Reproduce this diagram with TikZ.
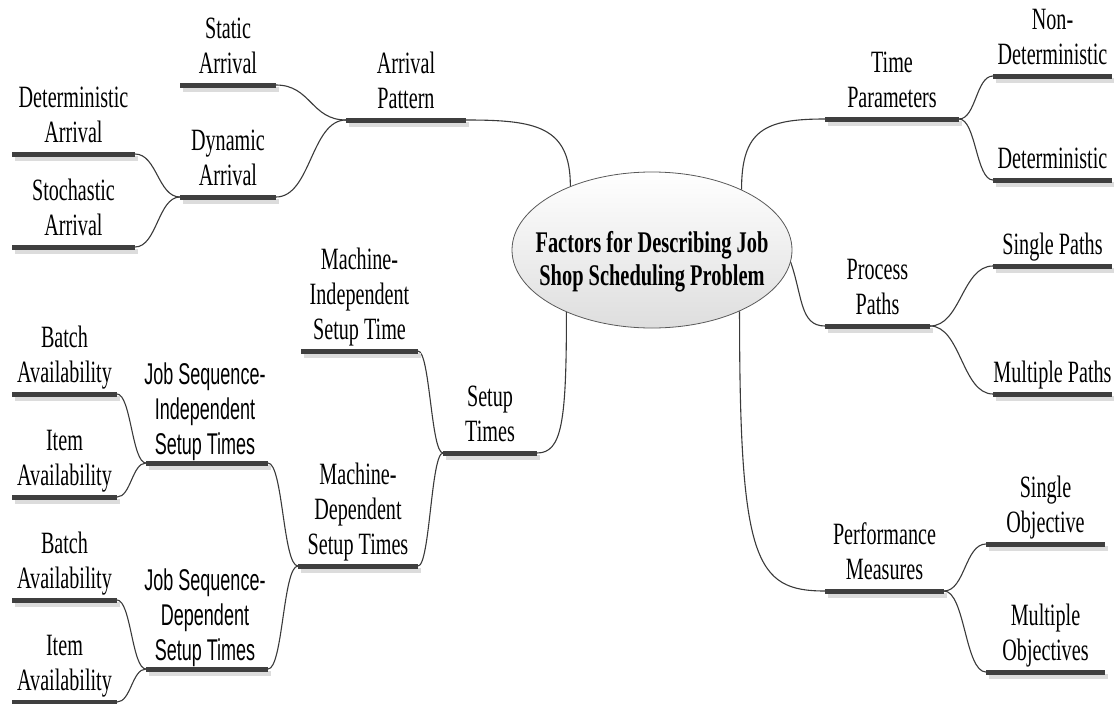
\documentclass[tikz,border=0pt]{standalone}
\usepackage{fontspec}
\newfontfamily\lblserif{Liberation Serif}[FakeStretch=0.65]
\newfontfamily\lblsans{Liberation Sans}[FakeStretch=0.6]
\newfontfamily\titleserif{Liberation Serif}[FakeStretch=0.68]
\usetikzlibrary{shapes.geometric}
\definecolor{barcol}{HTML}{3F3F3F}
\definecolor{shadowcol}{HTML}{DCDCDC}
\definecolor{linkcol}{HTML}{3A3A3A}

\begin{document}
\begin{tikzpicture}[x=1pt,y=1pt,
  lbl/.style={font=\lblserif\fontsize{31}{35}\selectfont, align=center,
    inner sep=0pt, anchor=south, yshift=2.5pt, execute at end node=\strut},
  slbl/.style={lbl, font=\lblsans\fontsize{30}{35}\selectfont},
  bar/.style={draw=barcol, line width=5pt},
  barshadow/.style={draw=shadowcol, line width=5pt},
  link/.style={draw=linkcol, line width=1.1pt},
  hub/.style={ellipse, draw=black!65, line width=0.8pt, top color=white,
    bottom color=black!13, minimum width=280pt, minimum height=156pt, inner sep=0pt}
]
\useasboundingbox (0,0) rectangle (1114,-704);

% central topic
\node[hub] (ell) at (652,-250) {};
\node[font=\titleserif\bfseries\fontsize{30}{33}\selectfont, align=center, inner sep=0pt]
  (title) at (652,-261.5) {Factors for Describing Job\\Shop Scheduling Problem};

% bar end points
\coordinate (staticL) at (180,-85);   \coordinate (staticR) at (276,-85);
\coordinate (patternL) at (346,-120); \coordinate (patternR) at (466,-120);
\coordinate (detarrL) at (12,-154);   \coordinate (detarrR) at (135,-154);
\coordinate (dynamicL) at (180,-197); \coordinate (dynamicR) at (276,-197);
\coordinate (stochL) at (12,-247);    \coordinate (stochR) at (135,-247);
\coordinate (mindL) at (301,-351);    \coordinate (mindR) at (418,-351);
\coordinate (setupL) at (443,-453);   \coordinate (setupR) at (537,-453);
\coordinate (mdepL) at (298,-566);    \coordinate (mdepR) at (418,-566);
\coordinate (jsiL) at (146,-463);     \coordinate (jsiR) at (268,-463);
\coordinate (batchAL) at (12,-394);   \coordinate (batchAR) at (117,-394);
\coordinate (itemAL) at (12,-497);    \coordinate (itemAR) at (117,-497);
\coordinate (jsdL) at (146,-669);     \coordinate (jsdR) at (268,-669);
\coordinate (batchBL) at (12,-600);   \coordinate (batchBR) at (117,-600);
\coordinate (itemBL) at (12,-702);    \coordinate (itemBR) at (117,-702);
\coordinate (timepL) at (825,-119);   \coordinate (timepR) at (959,-119);
\coordinate (nondetL) at (993,-76);   \coordinate (nondetR) at (1112,-76);
\coordinate (detL) at (993,-180);     \coordinate (detR) at (1112,-180);
\coordinate (procpL) at (825,-326);   \coordinate (procpR) at (930,-326);
\coordinate (singlepL) at (993,-266); \coordinate (singlepR) at (1112,-266);
\coordinate (multipL) at (993,-394);  \coordinate (multipR) at (1112,-394);
\coordinate (perfL) at (825,-591);    \coordinate (perfR) at (944,-591);
\coordinate (singleoL) at (986,-544); \coordinate (singleoR) at (1105,-544);
\coordinate (multioL) at (986,-672);  \coordinate (multioR) at (1105,-672);

% connectors to the central topic
\draw[link] (patternR) .. controls +(70,0) and +(0,60) .. (ell.142.9);
\draw[link] (ell.34.6) .. controls +(0,60) and +(-60,0) .. (timepL);
\draw[link] (ell.-5.4) .. controls +(12,-35) and +(-25,0) .. (procpL);
\draw[link] (ell.325.4) .. controls +(0,-250) and +(-70,0) .. (perfL);
\draw[link] (setupR) .. controls +(25,0) and +(0,-110) .. (ell.216.1);

% branch connectors
\draw[link] (staticR)  .. controls +(35,0) and +(-35,0) .. (patternL);
\draw[link] (dynamicR) .. controls +(35,0) and +(-35,0) .. (patternL);
\draw[link] (detarrR)  .. controls +(22,0) and +(-22,0) .. (dynamicL);
\draw[link] (stochR)   .. controls +(22,0) and +(-22,0) .. (dynamicL);
\draw[link] (mindR)    .. controls +(12,0) and +(-12,0) .. (setupL);
\draw[link] (mdepR)    .. controls +(12,0) and +(-12,0) .. (setupL);
\draw[link] (batchAR)  .. controls +(14,0) and +(-14,0) .. (jsiL);
\draw[link] (itemAR)   .. controls +(14,0) and +(-14,0) .. (jsiL);
\draw[link] (jsiR)     .. controls +(15,0) and +(-15,0) .. (mdepL);
\draw[link] (jsdR)     .. controls +(15,0) and +(-15,0) .. (mdepL);
\draw[link] (batchBR)  .. controls +(14,0) and +(-14,0) .. (jsdL);
\draw[link] (itemBR)   .. controls +(14,0) and +(-14,0) .. (jsdL);
\draw[link] (timepR)   .. controls +(17,0) and +(-17,0) .. (nondetL);
\draw[link] (timepR)   .. controls +(17,0) and +(-17,0) .. (detL);
\draw[link] (procpR)   .. controls +(31,0) and +(-31,0) .. (singlepL);
\draw[link] (procpR)   .. controls +(31,0) and +(-31,0) .. (multipL);
\draw[link] (perfR)    .. controls +(21,0) and +(-21,0) .. (singleoL);
\draw[link] (perfR)    .. controls +(21,0) and +(-21,0) .. (multioL);

% topic bars with their soft shadows
\foreach \k in {static,pattern,detarr,dynamic,stoch,mind,setup,mdep,jsi,batchA,itemA,
  jsd,batchB,itemB,timep,nondet,det,procp,singlep,multip,perf,singleo,multio}{
  \draw[barshadow] ([shift={(2.5,-4)}]\k L) -- ([shift={(2.5,-4)}]\k R);
}
\foreach \k in {static,pattern,detarr,dynamic,stoch,mind,setup,mdep,jsi,batchA,itemA,
  jsd,batchB,itemB,timep,nondet,det,procp,singlep,multip,perf,singleo,multio}{
  \draw[bar] (\k L) -- (\k R);
}

% topic labels
\node[lbl] (tStatic)  at (228,-86.5)  {Static\\Arrival};
\node[lbl] (tPattern) at (406,-121.5)  {Arrival\\Pattern};
\node[lbl] (tDetArr)  at (73.5,-155.5) {Deterministic\\Arrival};
\node[lbl] (tDynamic) at (228,-198.5) {Dynamic\\Arrival};
\node[lbl] (tStoch)   at (73.5,-248.5) {Stochastic\\Arrival};
\node[lbl] (tMind)    at (359.5,-352.5) {Machine-\\Independent\\Setup Time};
\node[lbl] (tSetup)   at (490,-454.5) {Setup\\Times};
\node[lbl] (tMdep)    at (358,-567.5) {Machine-\\Dependent\\Setup Times};
\node[slbl] (tJsi)    at (205,-467.5) {Job Sequence-\\Independent\\Setup Times};
\node[lbl] (tBatchA)  at (64.5,-395.5) {Batch\\Availability};
\node[lbl] (tItemA)   at (64.5,-498.5) {Item\\Availability};
\node[slbl] (tJsd)    at (205,-673.5) {Job Sequence-\\Dependent\\Setup Times};
\node[lbl] (tBatchB)  at (64.5,-601.5) {Batch\\Availability};
\node[lbl] (tItemB)   at (64.5,-703.5) {Item\\Availability};
\node[lbl] (tTimep)   at (892,-120.5)  {Time\\Parameters};
\node[lbl] (tNondet)  at (1052.5,-77.5) {Non-\\Deterministic};
\node[lbl] (tDet)     at (1052.5,-181.5) {Deterministic};
\node[lbl] (tProcp)   at (877.5,-327.5) {Process\\Paths};
\node[lbl] (tSinglep) at (1052.5,-267.5) {Single Paths};
\node[lbl] (tMultip)  at (1052.5,-395.5) {Multiple Paths};
\node[lbl] (tPerf)    at (884.5,-592.5) {Performance\\Measures};
\node[lbl] (tSingleo) at (1045.5,-545.5) {Single\\Objective};
\node[lbl] (tMultio)  at (1045.5,-673.5) {Multiple\\Objectives};
\end{tikzpicture}
\end{document}
